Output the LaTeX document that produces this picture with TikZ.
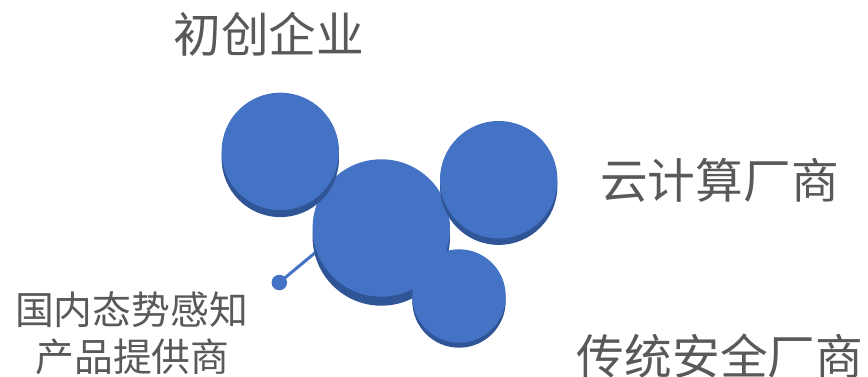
\documentclass[tikz,border=0pt]{standalone}
\usepackage{fontspec}
\newfontfamily\cjk{Noto Sans CJK SC}
\usetikzlibrary{shadows,backgrounds}
\definecolor{faceblue}{HTML}{4472C4}
\definecolor{shadeblue}{HTML}{2F5597}
\definecolor{labelgrey}{HTML}{595959}
\begin{document}
\begin{tikzpicture}[x=1pt,y=-1pt,
  disc/.style={circle, fill=faceblue, draw=none, inner sep=0pt, minimum size=#1},
  sh/.style={drop shadow={shadow xshift=0pt, shadow yshift=-#1, fill=shadeblue, opacity=1}},
  biglabel/.style={text=labelgrey, inner sep=0pt, anchor=base, font=\cjk\fontsize{47.7pt}{50pt}\selectfont},
  smalllabel/.style={text=labelgrey, inner sep=0pt, anchor=base, font=\cjk\fontsize{38.8pt}{47.5pt}\selectfont},
  link/.style={draw=faceblue, line width=3pt}]
\useasboundingbox (0,0) rectangle (868,377);
\node[disc=137.4pt, sh=9pt] (c2) at (381.3,228) {};
\node[disc=117.4pt, sh=7pt] (c1) at (280.3,151.4) {};
\node[disc=117.4pt, sh=6.5pt] (c3) at (498.7,179.7) {};
\node[disc=93.4pt, sh=5pt] (c4) at (459,296) {};
\node[disc=15.5pt] (dot) at (279.3,282.5) {};
\begin{scope}[on background layer]
\path[link] (dot.center) -- (c2.200);
\end{scope}
\node[biglabel] (t1) at (268.7,52.5) {初创企业};
\node[biglabel] (t2) at (719.5,198) {云计算厂商};
\node[biglabel] (t3) at (720,374) {传统安全厂商};
\node[smalllabel] (t4a) at (131.5,324) {国内态势感知};
\node[smalllabel] (t4b) at (132.5,371.5) {产品提供商};
\end{tikzpicture}
\end{document}
